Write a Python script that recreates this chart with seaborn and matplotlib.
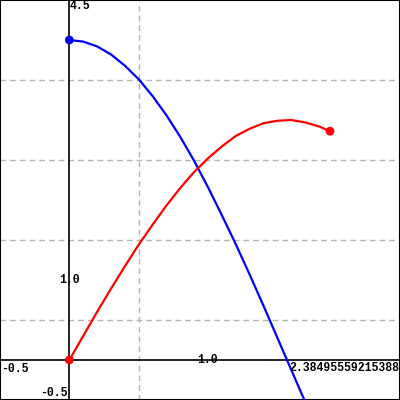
import matplotlib
matplotlib.use("Agg")
import matplotlib.pyplot as plt
import seaborn as sns
import pandas as pd

# values
red_x = [0.0, 0.1, 0.2, 0.3, 0.4, 0.5, 0.6, 0.7, 0.8, 0.9, 1.0, 1.1, 1.2, 1.3, 1.4, 1.5, 1.6, 1.7, 1.8, 1.88]
red_y = [0.0, 0.30, 0.60, 0.89, 1.17, 1.44, 1.69, 1.93, 2.15, 2.35, 2.52, 2.67, 2.80, 2.89, 2.96, 2.99, 3.00, 2.97, 2.92, 2.86]
blue_x = [0.0, 0.1, 0.2, 0.3, 0.4, 0.5, 0.6, 0.7, 0.8, 0.9, 1.0, 1.1, 1.2, 1.3, 1.4, 1.5, 1.6, 1.7, 1.8, 1.88]
blue_y = [4.00, 3.98, 3.92, 3.82, 3.68, 3.51, 3.30, 3.06, 2.79, 2.49, 2.16, 1.81, 1.45, 1.07, 0.68, 0.28, -0.12, -0.52, -0.91, -1.22]

x_min, x_max = -0.5, 2.38495559215388
y_min, y_max = -0.5, 4.5
grid_x = [0.5]
grid_y = [0.5, 1.5, 2.5, 3.5]

sns.set_style("white")
plt.rcParams["font.family"] = ["Liberation Mono", "DejaVu Sans Mono"]

fig = plt.figure(figsize=(4, 4), dpi=100)
ax = fig.add_axes([0, 0, 1, 1])

red = pd.DataFrame({"x": red_x, "y": red_y})
blue = pd.DataFrame({"x": blue_x, "y": blue_y})

ax.set_xlim(x_min, x_max)
ax.set_ylim(y_min, y_max)
ax.set_xticks(grid_x)
ax.set_yticks(grid_y)
ax.tick_params(length=0, labelbottom=False, labelleft=False)
ax.grid(True, color="#b4b4b4", linestyle=(0, (4, 3)), linewidth=1)

# axes through the origin
ax.axhline(0, color="black", lw=1.2, zorder=2)
ax.axvline(0, color="black", lw=1.2, zorder=2)

sns.lineplot(data=blue, x="x", y="y", sort=False, color="#0000ff", lw=1.6, ax=ax, zorder=3)
sns.lineplot(data=red, x="x", y="y", sort=False, color="#ff0000", lw=1.6, ax=ax, zorder=3)
sns.scatterplot(x=[blue_x[0]], y=[blue_y[0]], color="#0000ff", s=40, edgecolor="none", ax=ax, zorder=4)
sns.scatterplot(x=[red_x[0], red_x[-1]], y=[red_y[0], red_y[-1]], color="#ff0000", s=40,
                edgecolor="none", ax=ax, zorder=4)
ax.set_xlabel("")
ax.set_ylabel("")

for s in ax.spines.values():
    s.set_color("black")
    s.set_linewidth(1.5)

fs = 8.3
kw = dict(fontsize=fs, fontweight="bold", color="black", zorder=5)
ax.text(0, y_max, "4.5", ha="left", va="top", **kw)
ax.text(0, 1.0, "1.0", ha="center", va="center", **kw)
ax.text(x_min + 0.01, -0.04, "-0.5", ha="left", va="top", **kw)
ax.text(-0.01, y_min + 0.01, "-0.5", ha="right", va="bottom", **kw)
ax.text(1.0, 0, "1.0", ha="center", va="center", **kw)
ax.text(x_max - 0.005, -0.03, "2.38495559215388", ha="right", va="top", **kw)

fig.savefig("out.png", dpi=100)
